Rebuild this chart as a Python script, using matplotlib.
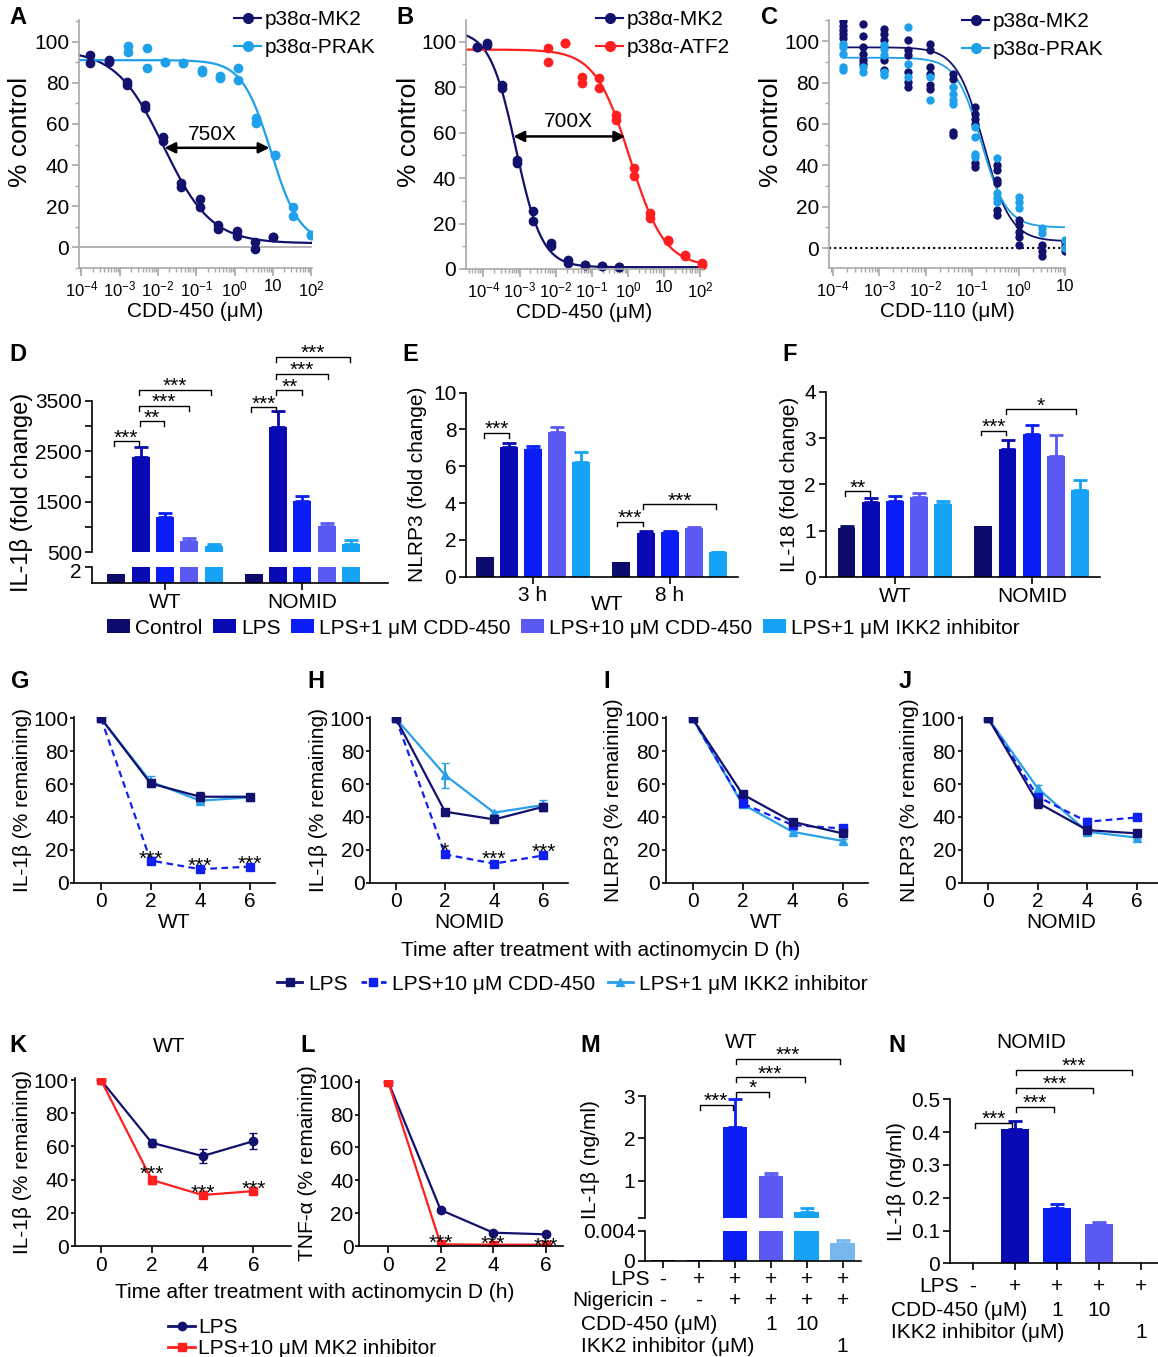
import numpy as np
import matplotlib
matplotlib.use('Agg')
import matplotlib.pyplot as plt
from matplotlib.patches import Patch
from matplotlib.lines import Line2D
from matplotlib import transforms
from matplotlib.ticker import FixedLocator, FixedFormatter, LogLocator, NullFormatter, MultipleLocator

plt.rcParams['font.family'] = ['Liberation Sans', 'DejaVu Sans']
plt.rcParams['mathtext.fontset'] = 'custom'
plt.rcParams['mathtext.rm'] = 'Liberation Sans'
plt.rcParams['mathtext.it'] = 'Liberation Sans:italic'
plt.rcParams['mathtext.bf'] = 'Liberation Sans:bold'
plt.rcParams['font.size'] = 15
plt.rcParams['axes.linewidth'] = 1.2
for a in ('xtick', 'ytick'):
    plt.rcParams[a + '.major.width'] = 1.2
    plt.rcParams[a + '.minor.width'] = 1.0
    plt.rcParams[a + '.major.size'] = 5
    plt.rcParams[a + '.minor.size'] = 3
    plt.rcParams[a + '.major.pad'] = 2

# ---------------- data ----------------
# A: CDD-450 dose response (log10 uM), two replicates, fit = top, bottom, logIC50, hill
A_mk2_logc = [1.0, 0.52, 0.05, -0.43, -0.91, -1.39, -1.86, -2.34, -2.82, -3.29, -3.77]
A_mk2_rep1 = [5.3, 2.4, 8.0, 10.8, 23.4, 31.5, 53.7, 69.4, 80.6, 91.0, 93.5]
A_mk2_rep2 = [5.3, -0.8, 5.6, 8.9, 19.4, 29.5, 51.6, 67.7, 79.0, 90.0, 89.5]
A_prak_logc = [2.0, 1.52, 1.05, 0.57, 0.09, -0.39, -0.86, -1.34, -1.82, -2.29, -2.77]
A_prak_rep1 = [6.0, 19.4, 44.8, 62.9, 87.1, 83.4, 86.3, 89.5, 90.3, 96.8, 98.0]
A_prak_rep2 = [6.0, 15.3, 44.8, 60.5, 81.5, 82.3, 85.0, 89.5, 90.3, 87.1, 95.0]
A_mk2_fit = [96, 2, -1.85, 0.7]
A_prak_fit = [91, 2, 0.95, 1.15]

# B
B_mk2_logc = [-0.25, -0.72, -1.19, -1.65, -2.14, -2.62, -3.07, -3.49, -3.89, -4.18]
B_mk2_rep1 = [0.9, 1.2, 1.9, 4.1, 11.4, 25.5, 48.0, 81.0, 99.3, 97.8]
B_mk2_rep2 = [0.9, 1.2, 1.9, 2.6, 10.0, 20.9, 46.6, 79.5, 98.5, 97.8]
B_atf2_logc = [2.04, 1.56, 1.09, 0.61, 0.15, -0.33, -0.80, -1.28, -1.74, -2.20]
B_atf2_rep1 = [2.6, 6.3, 12.7, 24.6, 44.4, 67.8, 83.9, 84.6, 99.3, 97.0]
B_atf2_rep2 = [1.9, 5.6, 12.2, 22.4, 40.8, 65.6, 79.5, 81.7, 99.3, 91.2]
B_mk2_fit = [105, 0.8, -3.1, 1.2]
B_atf2_fit = [96.5, 1.0, 0.05, 0.9]

# C: CDD-110
C_logc = [-3.77, -3.35, -2.89, -2.38, -1.90, -1.42, -0.935, -0.47, 0.02, 0.51, 1.0]
C_mk2_vals = [[109.6, 107.5, 105.5, 103.5, 101.6],
              [108.3, 102.7, 97.1, 93.9, 90.7, 89.1],
              [105.9, 103.5, 100.3, 90.7, 85.9],
              [100.3, 95.5, 93.1, 85.1, 80.3, 77.8],
              [98.7, 95.5, 87.5, 84.3, 78.7, 77.0],
              [84.3, 81.9, 56.2, 54.6],
              [68.2, 65.0, 62.6, 60.2, 40.9, 39.3],
              [40.1, 37.7, 32.9, 31.3, 18.5, 16.0],
              [13.6, 11.2, 8.0, 5.6, 1.6],
              [1.6, -1.6, -4.0],
              [3.2, 0.8, -1.6]]
C_prak_vals = [[98.7, 97.1, 93.9, 87.5, 85.9],
               [87.5, 85.1],
               [97.9, 96.3, 93.1, 85.1, 83.5],
               [106.7, 89.1, 82.7],
               [82.7, 71.4],
               [77.8, 74.6, 71.4, 69.8],
               [58.6, 53.8, 45.7, 44.1],
               [43.3, 26.5, 24.1, 22.5],
               [24.9, 22.5, 19.3],
               [9.6, 7.2],
               [4.0, 0.0]]
C_mk2_fit = [97, 3.3, -0.75, 1.5]
C_prak_fit = [92, 10, -0.8, 1.6]

log_ticks = [-4, -3, -2, -1, 0, 1, 2]
log_labels = ['$10^{-4}$', '$10^{-3}$', '$10^{-2}$', '$10^{-1}$', '$10^{0}$', '10', '$10^{2}$']

# D-F bars: Control, LPS, LPS+1 CDD-450, LPS+10 CDD-450, LPS+1 IKK2
treatments = ['Control', 'LPS', 'LPS+1 μM CDD-450', 'LPS+10 μM CDD-450', 'LPS+1 μM IKK2 inhibitor']
D_wt = [1.08, 2387, 1209, 718, 626]
D_wt_err = [0, 193, 66, 60, 40]
D_nomid = [1.1, 2977, 1520, 1023, 659]
D_nomid_err = [0, 318, 106, 66, 86]
E_3h = [1.05, 7.07, 6.92, 7.88, 6.21]
E_3h_err = [0, 0.21, 0.18, 0.24, 0.58]
E_8h = [0.82, 2.39, 2.45, 2.66, 1.32]
E_8h_err = [0, 0.07, 0.05, 0.05, 0.02]
F_wt = [1.06, 1.63, 1.65, 1.72, 1.59]
F_wt_err = [0.04, 0.07, 0.11, 0.09, 0.06]
F_nomid = [1.1, 2.77, 3.09, 2.62, 1.88]
F_nomid_err = [0, 0.19, 0.19, 0.45, 0.22]

# G-J time courses
hours = [0, 2, 4, 6]
G_lps, G_lps_err = [100, 60.4, 52.3, 52.3], [0, 1.5, 3, 1.5]
G_cdd, G_cdd_err = [100, 13.5, 8.2, 9.8], [0, 2, 1, 1]
G_ikk, G_ikk_err = [100, 61.5, 49.9, 51.9], [0, 3.5, 1.5, 1]
H_lps, H_lps_err = [100, 43.2, 38.5, 46.2], [0, 1.5, 1.8, 2.5]
H_cdd, H_cdd_err = [100, 17.2, 11.6, 16.6], [0, 1, 1, 1]
H_ikk, H_ikk_err = [100, 65.5, 42.6, 47.3], [0, 7.6, 1, 3]
I_lps, I_lps_err = [100, 53.8, 37.1, 30.0], [0, 1.5, 1.5, 1.5]
I_cdd, I_cdd_err = [100, 48.3, 35.1, 33.0], [0, 1, 1, 1.5]
I_ikk, I_ikk_err = [100, 47.7, 31.0, 25.4], [0, 1, 1, 1]
J_lps, J_lps_err = [100, 48.7, 32.0, 30.0], [0, 3.5, 1, 1]
J_cdd, J_cdd_err = [100, 52.3, 37.1, 39.7], [0, 2, 2, 1]
J_ikk, J_ikk_err = [100, 57.4, 31.0, 27.4], [0, 2, 1, 1]

K_lps, K_lps_err = [100, 62.2, 54.2, 63.2], [1, 2.5, 4, 5]
K_mk2, K_mk2_err = [100, 39.8, 30.7, 33.1], [0, 2.5, 1, 1.2]
L_lps, L_lps_err = [100, 21.9, 8.1, 7.1], [1, 1, 0.5, 0.8]
L_mk2, L_mk2_err = [100, 1.0, 0.8, 0.8], [1, 0.5, 0.3, 0.3]

# M, N
M_vals = [0.0001, 0.0001, 2.276, 1.12, 0.25, 0.0024]
M_err = [0, 0, 0.65, 0.06, 0.095, 0.0003]
M_lps = ['-', '+', '+', '+', '+', '+']
M_nig = ['-', '-', '+', '+', '+', '+']
M_cdd = ['', '', '', '1', '10', '']
M_ikk = ['', '', '', '', '', '1']
N_vals = [0, 0.41, 0.168, 0.12, 0]
N_err = [0, 0.025, 0.013, 0.006, 0]
N_lps = ['-', '+', '+', '+', '+']
N_cdd = ['', '', '1', '10', '']
N_ikk = ['', '', '', '', '1']

# ---------------- style ----------------
navy = '#12126e'
bar_cols = ['#0c0c6c', '#0a0ab4', '#0a1ef5', '#5a5af2', '#16a2f5']
lblue = '#1ea0ea'
red = '#ff1f1f'
gray = '#a8a8a8'
M_cols = ['#0c0c6c', '#0a0ab4', '#0a1ef5', '#5a5af2', '#16a2f5', '#78b6ee']
N_cols = ['#0c0c6c', '#0a0ab4', '#0a1ef5', '#5a5af2', '#16a2f5']

W, H = 1158, 1357
fig = plt.figure(figsize=(W / 100, H / 100), dpi=100)


def add_ax(l, t, r, b):
    ax = fig.add_axes([l / W, 1 - b / H, (r - l) / W, (b - t) / H])
    ax.spines['top'].set_visible(False)
    ax.spines['right'].set_visible(False)
    return ax


def ftext(x, y, s, **kw):
    fig.text(x / W, 1 - y / H, s, **kw)


def logistic(x, p):
    top, bot, c, h = p
    return bot + (top - bot) / (1 + 10 ** ((x - c) * h))


def bracket(ax, x1, x2, y, drop, label):
    ax.plot([x1, x1, x2, x2], [y - drop, y, y, y - drop], color='k', lw=1.0, clip_on=False)
    ax.annotate(label, ((x1 + x2) / 2, y), xytext=(0, -1.5), textcoords='offset points',
                ha='center', va='baseline', annotation_clip=False)


def star(ax, x, y, label):
    ax.annotate(label, (x, y), xytext=(0, -8.5), textcoords='offset points',
                ha='center', va='baseline', annotation_clip=False)


def log_axis(ax, lo, hi, nt, lab_x):
    ax.set_xscale('log')
    ax.set_xlim(10 ** lo, 10 ** hi)
    ax.xaxis.set_major_locator(FixedLocator([10.0 ** k for k in log_ticks[:nt]]))
    ax.xaxis.set_major_formatter(FixedFormatter(log_labels[:nt]))
    ax.xaxis.set_minor_locator(LogLocator(base=10, subs=np.arange(2, 10), numticks=30))
    ax.xaxis.set_minor_formatter(NullFormatter())
    ax.tick_params(axis='x', which='major', labelsize=12, length=6)
    ax.tick_params(which='both', color=gray)
    ax.spines['left'].set_color(gray)
    ax.spines['bottom'].set_color(gray)
    ax.set_yticks([0, 20, 40, 60, 80, 100])
    ax.yaxis.set_minor_locator(MultipleLocator(10))
    ax.set_ylabel('% control', fontsize=19)
    ax.yaxis.set_label_coords(lab_x, 0.55)


def curve_legend(x, y, items):
    hs = [Line2D([0], [0], color=c, marker='o', ms=7, lw=1.5) for c, _ in items]
    fig.legend(hs, [l for _, l in items], loc='upper left', bbox_to_anchor=(x / W, 1 - y / H),
               frameon=False, handlelength=1.3, handletextpad=0.15, labelspacing=0.45,
               borderpad=0, borderaxespad=0)


def tight_y(ax):
    ax.tick_params(axis='y', length=3, pad=1)


# ---------------- A ----------------
ax = add_ax(79, 20, 312, 268)
xs = np.linspace(-4.06, 2.02, 300)
ax.axhline(0, color=gray, lw=1.2)
ax.plot(10 ** xs, logistic(xs, A_mk2_fit), color=navy, lw=1.6)
ax.plot(10 ** xs, logistic(xs, A_prak_fit), color=lblue, lw=1.6)
for r in (A_mk2_rep1, A_mk2_rep2):
    ax.plot(10 ** np.array(A_mk2_logc), r, 'o', color=navy, ms=7, mec='none')
for r in (A_prak_rep1, A_prak_rep2):
    ax.plot(10 ** np.array(A_prak_logc), r, 'o', color=lblue, ms=7, mec='none')
log_axis(ax, -4.06, 2.02, 7, -0.2)
ax.set_ylim(-10, 110.5)
ax.set_xlabel('CDD-450 (μM)', labelpad=2)
ax.annotate('', xy=(10 ** -1.83, 48.4), xytext=(10 ** 0.91, 48.4),
            arrowprops=dict(arrowstyle='<|-|>', color='k', lw=1.8, mutation_scale=16, shrinkA=0, shrinkB=0))
ax.text(10 ** -0.59, 54.8, '750X', ha='center', va='center')
curve_legend(234, 10, [(navy, 'p38α-MK2'), (lblue, 'p38α-PRAK')])

# ---------------- B ----------------
ax = add_ax(466, 20, 703, 269)
xs = np.linspace(-4.48, 2.07, 300)
ax.plot(10 ** xs, logistic(xs, B_mk2_fit), color=navy, lw=1.6)
ax.plot(10 ** xs, logistic(xs, B_atf2_fit), color=red, lw=1.6)
for r in (B_mk2_rep1, B_mk2_rep2):
    ax.plot(10 ** np.array(B_mk2_logc), r, 'o', color=navy, ms=7, mec='none', clip_on=False)
for r in (B_atf2_rep1, B_atf2_rep2):
    ax.plot(10 ** np.array(B_atf2_logc), r, 'o', color=red, ms=7, mec='none', clip_on=False)
log_axis(ax, -4.48, 2.07, 7, -0.19)
ax.set_ylim(0, 109.5)
ax.set_xlabel('CDD-450 (μM)', labelpad=2)
ax.annotate('', xy=(10 ** -3.17, 58.3), xytext=(10 ** -0.08, 58.3),
            arrowprops=dict(arrowstyle='<|-|>', color='k', lw=1.8, mutation_scale=16, shrinkA=0, shrinkB=0))
ax.text(10 ** -1.65, 64.9, '700X', ha='center', va='center')
curve_legend(596, 10, [(navy, 'p38α-MK2'), (red, 'p38α-ATF2')])

# ---------------- C ----------------
ax = add_ax(829, 20, 1065, 268)
xs = np.linspace(C_logc[0], C_logc[-1], 300)
ax.axhline(0, color='k', lw=1.5, ls=(0, (1, 1.5)))
ax.plot(10 ** xs, logistic(xs, C_mk2_fit), color=navy, lw=1.3)
ax.plot(10 ** xs, logistic(xs, C_prak_fit), color=lblue, lw=1.3)
for lc, vals in zip(C_logc, C_mk2_vals):
    ax.plot([10 ** lc] * len(vals), vals, 'o', color=navy, ms=6, mec='none')
for lc, vals in zip(C_logc, C_prak_vals):
    ax.plot([10 ** lc] * len(vals), vals, 'o', color=lblue, ms=6, mec='none')
log_axis(ax, -4.08, 1.0, 6, -0.195)
ax.set_ylim(-9.6, 110.2)
ax.set_xlabel('CDD-110 (μM)', labelpad=2)
curve_legend(962, 12, [(navy, 'p38α-MK2'), (lblue, 'p38α-PRAK')])

# ---------------- D ----------------
gap = 5.65
xg1 = np.arange(5) - 2.0
xg2 = xg1 + gap


def bars(ax, x, vals, errs, width=0.74):
    for xi, v, e, c in zip(x, vals, errs, bar_cols):
        ax.bar(xi, v, width=width, color=c, lw=0)
        if e > 0:
            ax.errorbar(xi, v, yerr=[[0], [e]], fmt='none', ecolor=c, elinewidth=2, capsize=5, capthick=2)


up = add_ax(91.7, 401, 388, 552.3)
lo = add_ax(91.7, 566.7, 388, 583.3)
for a in (up, lo):
    bars(a, xg1, D_wt, D_wt_err)
    bars(a, xg2, D_nomid, D_nomid_err)
    a.set_xlim(-3.02, 9.18)
up.set_ylim(500, 3500)
up.spines['bottom'].set_visible(False)
up.set_xticks([])
up.set_yticks(np.arange(500, 3501, 500))
up.set_yticklabels(['500', '', '1500', '', '2500', '', '3500'])
lo.set_ylim(0, 2)
lo.set_yticks([2])
lo.set_yticklabels(['2'])
for lab in lo.get_yticklabels():
    lab.set_transform(lab.get_transform() + transforms.ScaledTranslation(0, -3 / 72, fig.dpi_scale_trans))
lo.set_xticks([0, gap])
lo.set_xticklabels(['WT', 'NOMID'])
ftext(22, 492, 'IL-1β (fold change)', rotation=90, ha='center', va='center', fontsize=17)
d = 100
bracket(up, -2.12, -1.08, 2699, d, '***')
bracket(up, -1.05, -0.05, 3096, d, '**')
bracket(up, -1.08, 1.0, 3407, d, '***')
bracket(up, -1.08, 1.9, 3725, d, '***')
bracket(up, gap - 2.13, gap - 1.07, 3374, d, '***')
bracket(up, gap - 1.07, gap, 3712, d, '**')
bracket(up, gap - 1.07, gap + 1.06, 4036, d, '***')
bracket(up, gap - 1.07, gap + 1.95, 4374, d, '***')

# ---------------- E ----------------
ax = add_ax(466, 392.7, 738, 576.7)
bars(ax, xg1, E_3h, E_3h_err)
bars(ax, xg2, E_8h, E_8h_err)
ax.set_xlim(-2.77, 8.47)
ax.set_ylim(0, 10)
ax.set_yticks([0, 2, 4, 6, 8, 10])
ax.set_xticks([0, gap])
ax.set_xticklabels(['3 h', '8 h'])
ax.set_ylabel('NLRP3 (fold change)', labelpad=4)
ftext(607, 605, 'WT', ha='center', va='center')
bracket(ax, -2.03, -0.99, 7.8, 0.24, '***')
bracket(ax, gap - 2.18, gap - 1.1, 2.99, 0.24, '***')
bracket(ax, gap - 1.1, gap + 1.9, 3.93, 0.24, '***')

# ---------------- F ----------------
ax = add_ax(825.7, 391.7, 1100, 577.3)
bars(ax, xg1, F_wt, F_wt_err)
bars(ax, xg2, F_nomid, F_nomid_err)
ax.set_xlim(-2.86, 8.47)
ax.set_ylim(0, 4)
ax.set_yticks([0, 1, 2, 3, 4])
ax.set_xticks([0, gap])
ax.set_xticklabels(['WT', 'NOMID'])
ax.set_ylabel('IL-18 (fold change)', labelpad=4)
bracket(ax, -2.07, -1.03, 1.85, 0.1, '**')
bracket(ax, gap - 2.1, gap - 1.07, 3.16, 0.1, '***')
bracket(ax, gap - 1.07, gap + 1.83, 3.62, 0.1, '*')

hs = [Patch(facecolor=c, lw=0) for c in bar_cols]
fig.legend(hs, treatments, loc='center', bbox_to_anchor=(563.5 / W, 1 - 628 / H), ncol=5,
           frameon=False, handlelength=1.1, handleheight=0.65, handletextpad=0.25,
           columnspacing=0.5, borderpad=0, borderaxespad=0)

# ---------------- G-J ----------------
c_lps, c_cdd, c_ikk = navy, '#1020f0', '#2a9fea'


def decay(ax, lps, lps_e, cdd, cdd_e, ikk, ikk_e, xl):
    ax.errorbar(hours, ikk, yerr=ikk_e, color=c_ikk, marker='^', ms=6, lw=1.6, capsize=3, elinewidth=1.4)
    ax.errorbar(hours, cdd, yerr=cdd_e, color=c_cdd, marker='s', ms=6, lw=1.6, ls=(0, (3, 2)),
                capsize=3, elinewidth=1.4)
    ax.errorbar(hours, lps, yerr=lps_e, color=c_lps, marker='s', ms=6, lw=1.6, capsize=3, elinewidth=1.4)
    ax.set_ylim(0, 101)
    ax.set_yticks([0, 20, 40, 60, 80, 100])
    ax.set_xticks(hours)
    ax.set_xlabel(xl, labelpad=1)
    tight_y(ax)


ax = add_ax(74, 716.7, 274.5, 882.7)
decay(ax, G_lps, G_lps_err, G_cdd, G_cdd_err, G_ikk, G_ikk_err, 'WT')
ax.set_xlim(-1.09, 7.0)
ax.set_ylabel('IL-1β (% remaining)', labelpad=1)
star(ax, 2, 18.3, '***')
star(ax, 4, 13.8, '***')
star(ax, 6, 15.0, '***')

ax = add_ax(370, 716.7, 568, 882.7)
decay(ax, H_lps, H_lps_err, H_cdd, H_cdd_err, H_ikk, H_ikk_err, 'NOMID')
ax.set_xlim(-1.05, 7.0)
ax.set_ylabel('IL-1β (% remaining)', labelpad=1)
star(ax, 2, 23.0, '*')
star(ax, 4, 17.8, '***')
star(ax, 6, 22.3, '***')

ax = add_ax(665.5, 716.7, 867.5, 882.7)
decay(ax, I_lps, I_lps_err, I_cdd, I_cdd_err, I_ikk, I_ikk_err, 'WT')
ax.set_xlim(-1.08, 7.0)
ax.set_ylabel('NLRP3 (% remaining)', labelpad=1)

ax = add_ax(961.5, 716.7, 1161, 882.7)
decay(ax, J_lps, J_lps_err, J_cdd, J_cdd_err, J_ikk, J_ikk_err, 'NOMID')
ax.set_xlim(-1.08, 6.98)
ax.set_ylabel('NLRP3 (% remaining)', labelpad=1)

ftext(601, 951, 'Time after treatment with actinomycin D (h)', ha='center', va='center')
hs = [Line2D([0], [0], color=c_lps, marker='s', ms=6, lw=2),
      Line2D([0], [0], color=c_cdd, marker='s', ms=6, lw=2, ls=(0, (2, 1.5))),
      Line2D([0], [0], color=c_ikk, marker='^', ms=6, lw=2)]
fig.legend(hs, ['LPS', 'LPS+10 μM CDD-450', 'LPS+1 μM IKK2 inhibitor'], loc='center',
           bbox_to_anchor=(572.5 / W, 1 - 984 / H), ncol=3, frameon=False, handlelength=1.2,
           handletextpad=0.3, columnspacing=0.6, borderpad=0, borderaxespad=0)

# ---------------- K, L ----------------
ax = add_ax(74.5, 1078.4, 290.8, 1246)
ax.errorbar(hours, K_lps, yerr=K_lps_err, color=navy, marker='o', ms=6, lw=1.6, capsize=3, elinewidth=1.4)
ax.errorbar(hours, K_mk2, yerr=K_mk2_err, color=red, marker='s', ms=6, lw=1.6, capsize=3, elinewidth=1.4)
ax.set_xlim(-1.04, 7.47)
ax.set_ylim(0, 101)
ax.set_yticks([0, 20, 40, 60, 80, 100])
ax.set_xticks(hours)
tight_y(ax)
ax.set_ylabel('IL-1β (% remaining)', labelpad=1)
star(ax, 2, 46.8, '***')
star(ax, 4, 35.7, '***')
star(ax, 6, 38.2, '***')
ftext(169, 1047, 'WT', ha='center', va='center')

ax = add_ax(359, 1080, 563.4, 1246)
ax.errorbar(hours, L_lps, yerr=L_lps_err, color=navy, marker='o', ms=6, lw=1.6, capsize=3, elinewidth=1.4)
ax.errorbar(hours, L_mk2, yerr=L_mk2_err, color=red, marker='s', ms=6, lw=1.6, capsize=3, elinewidth=1.4)
ax.set_xlim(-1.11, 6.67)
ax.set_ylim(0, 101)
ax.set_yticks([0, 20, 40, 60, 80, 100])
ax.set_xticks(hours)
tight_y(ax)
ax.set_ylabel('TNF-α (% remaining)', labelpad=1)
star(ax, 2, 5.7, '***')
star(ax, 4, 4.7, '***')
star(ax, 6, 3.7, '***')

ftext(315, 1292, 'Time after treatment with actinomycin D (h)', ha='center', va='center')
hs = [Line2D([0], [0], color=navy, marker='o', ms=6, lw=2),
      Line2D([0], [0], color=red, marker='s', ms=6, lw=2)]
fig.legend(hs, ['LPS', 'LPS+10 μM MK2 inhibitor'], loc='upper left',
           bbox_to_anchor=(168 / W, 1 - 1318 / H), frameon=False, handlelength=1.3,
           handletextpad=0.15, labelspacing=0.1, borderpad=0, borderaxespad=0)

# ---------------- M ----------------
xm = np.arange(len(M_vals))
mu = add_ax(645, 1096, 860.6, 1218.3)
ml = add_ax(645, 1230.7, 860.6, 1260.7)
for a in (mu, ml):
    for xi, v, c in zip(xm, M_vals, M_cols):
        a.bar(xi, v, width=0.68, color=c, lw=0)
    a.set_xlim(-0.5, 5.5)
for xi, v, e, c in zip(xm, M_vals, M_err, M_cols):
    if e > 0:
        a = mu if v > 0.11 else ml
        a.errorbar(xi, v, yerr=[[0], [e]], fmt='none', ecolor=c, elinewidth=2, capsize=5, capthick=2)
mu.set_ylim(0.11, 3)
mu.spines['bottom'].set_visible(False)
mu.set_xticks([])
mu.set_yticks([0.11, 1, 2, 3])
mu.set_yticklabels(['', '1', '2', '3'])
ml.set_ylim(0, 0.004)
ml.set_yticks([0, 0.004])
ml.set_yticklabels(['0', '0.004'])
ml.set_xticks(xm)
ml.set_xticklabels([])
ftext(590, 1160, 'IL-1β (ng/ml)', rotation=90, ha='center', va='center')
ftext(741, 1043, 'WT', ha='center', va='center')
bracket(mu, 1.02, 1.94, 2.79, 0.12, '***')
bracket(mu, 2.02, 2.96, 3.10, 0.12, '*')
bracket(mu, 2.02, 3.94, 3.44, 0.12, '***')
bracket(mu, 2.02, 4.93, 3.87, 0.12, '***')
tr = transforms.blended_transform_factory(ml.transData, fig.transFigure)
for row, y in zip((M_lps, M_nig, M_cdd, M_ikk), (1279.3, 1300.5, 1324, 1346.7)):
    for xi, s in zip(xm, row):
        fig.text(xi, 1 - y / H, s, transform=tr, ha='center', va='center')
ftext(650, 1279.3, 'LPS', ha='right', va='center')
ftext(654, 1300.5, 'Nigericin', ha='right', va='center')
ftext(581, 1324, 'CDD-450 (μM)', ha='left', va='center')
ftext(581, 1346.7, 'IKK2 inhibitor (μM)', ha='left', va='center')

# ---------------- N ----------------
xn = np.arange(len(N_vals))
ax = add_ax(949.5, 1099.3, 1160, 1263.3)
for xi, v, e, c in zip(xn, N_vals, N_err, N_cols):
    ax.bar(xi, v, width=0.67, color=c, lw=0)
    if e > 0:
        ax.errorbar(xi, v, yerr=[[0], [e]], fmt='none', ecolor=c, elinewidth=2, capsize=5, capthick=2)
ax.set_xlim(-0.56, 4.46)
ax.set_ylim(0, 0.5)
ax.set_yticks([0, 0.1, 0.2, 0.3, 0.4, 0.5])
ax.set_yticklabels(['0', '0.1', '0.2', '0.3', '0.4', '0.5'])
ax.set_xticks(xn)
ax.set_xticklabels([])
ax.set_ylabel('IL-1β (ng/ml)', labelpad=3)
ftext(1031, 1043, 'NOMID', ha='center', va='center')
bracket(ax, 0.05, 0.94, 0.429, 0.015, '***')
bracket(ax, 1.03, 1.93, 0.476, 0.015, '***')
bracket(ax, 1.03, 2.86, 0.534, 0.015, '***')
bracket(ax, 1.03, 3.80, 0.589, 0.015, '***')
tr = transforms.blended_transform_factory(ax.transData, fig.transFigure)
for row, y in zip((N_lps, N_cdd, N_ikk), (1286, 1310, 1333)):
    for xi, s in zip(xn, row):
        fig.text(xi, 1 - y / H, s, transform=tr, ha='center', va='center')
ftext(959, 1286, 'LPS', ha='right', va='center')
ftext(891, 1310, 'CDD-450 (μM)', ha='left', va='center')
ftext(891, 1333, 'IKK2 inhibitor (μM)', ha='left', va='center')

# panel letters
for s, x, y in [('A', 18, 17), ('B', 405, 17), ('C', 770, 17), ('D', 18, 354), ('E', 410, 354),
                ('F', 790, 354), ('G', 20, 682), ('H', 316, 682), ('I', 607, 682), ('J', 905, 682),
                ('K', 18, 1045), ('L', 308, 1045), ('M', 590, 1045), ('N', 897, 1045)]:
    ftext(x, y, s, fontsize=17, fontweight='bold', ha='center', va='center')

fig.savefig('out.png', dpi=100)
